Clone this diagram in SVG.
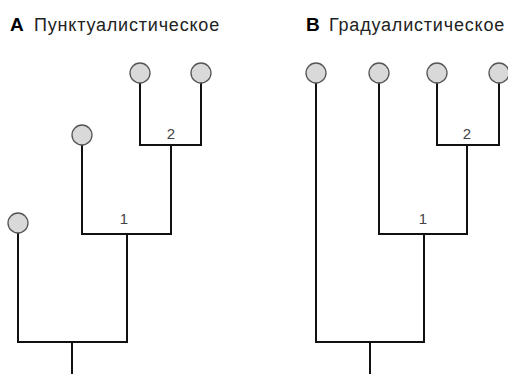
<svg xmlns="http://www.w3.org/2000/svg" width="508" height="374" viewBox="0 0 508 374">
<style>
.title{font-family:"Liberation Sans",Arial,sans-serif;font-size:18px;letter-spacing:0.8px;fill:#222}
.b{font-family:"Liberation Sans",Arial,sans-serif;font-size:19px;font-weight:bold;fill:#000}
.lbl{font-family:"Liberation Sans",Arial,sans-serif;font-size:15px;fill:#444;text-anchor:middle}
.edge{fill:none;stroke:#111;stroke-width:2;stroke-linecap:square}
.leaf{fill:#d9d9d9;stroke:#555;stroke-width:1.3}
</style>
<rect width="508" height="374" fill="#fff"/>
<g id="title-a"><text class="b" x="10" y="31">А</text><text class="title" x="34" y="31">Пунктуалистическое</text></g>
<g id="title-b"><text class="b" x="306" y="31">В</text><text class="title" x="329" y="31">Градуалистическое</text></g>
<g id="connectors">
<path class="edge" d="M140 73V145H201V73M171 145V234H82V135M127 234V342H18V223M72 342V375"/>
<path class="edge" d="M437 73V145H499V73M467 145V234H379V73M424 234V342H316V73M370 342V375"/>
</g>
<g id="labels">
<text class="lbl" x="171" y="139">2</text>
<text class="lbl" x="124" y="224">1</text>
<text class="lbl" x="467" y="139">2</text>
<text class="lbl" x="423" y="224">1</text>
</g>
<g id="a-leaf1"><circle class="leaf" cx="18" cy="223" r="10"/></g>
<g id="a-leaf2"><circle class="leaf" cx="82" cy="135" r="10"/></g>
<g id="a-leaf3"><circle class="leaf" cx="140" cy="73" r="10"/></g>
<g id="a-leaf4"><circle class="leaf" cx="201" cy="73" r="10"/></g>
<g id="b-leaf1"><circle class="leaf" cx="316" cy="73" r="10"/></g>
<g id="b-leaf2"><circle class="leaf" cx="379" cy="73" r="10"/></g>
<g id="b-leaf3"><circle class="leaf" cx="437" cy="73" r="10"/></g>
<g id="b-leaf4"><circle class="leaf" cx="499" cy="73" r="10"/></g>
</svg>
